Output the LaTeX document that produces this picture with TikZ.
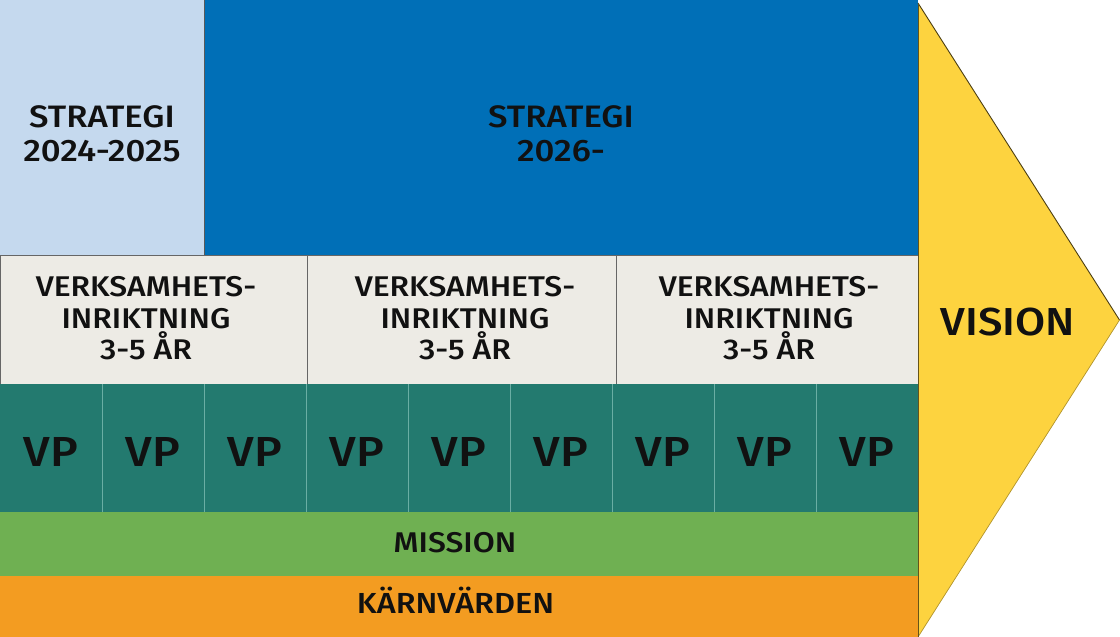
\documentclass[tikz,border=0pt]{standalone}
\usepackage{fontspec}
\setmainfont{Fira Sans}[BoldFont={Fira Sans Medium}, BoldFeatures={FakeStretch=1.12}]
\definecolor{lblue}{HTML}{C5D9EE}
\definecolor{dblue}{HTML}{006FB7}
\definecolor{beige}{HTML}{EDEBE5}
\definecolor{teal}{HTML}{237A6F}
\definecolor{tealline}{HTML}{6AAEA4}
\definecolor{mgreen}{HTML}{6FB052}
\definecolor{korange}{HTML}{F39C21}
\definecolor{vyellow}{HTML}{FDD33F}
\definecolor{txt}{HTML}{111111}
\tikzset{
  cell/.style={anchor=north west, inner sep=0pt, outer sep=0pt, text=txt, font=\bfseries, align=center},
  lbl/.style={text=txt, font=\bfseries, align=center, inner sep=0pt},
}
\begin{document}
\begin{tikzpicture}[x=1pt,y=-1pt]
\useasboundingbox (0,0) rectangle (1120,637);
% top row
\node[cell, fill=lblue, minimum width=204pt, minimum height=255pt] (s1) at (0,0) {};
\node[cell, fill=dblue, minimum width=714pt, minimum height=255pt] (s2) at (204,0) {};
\node[lbl, font=\fontsize{31}{34}\selectfont\bfseries] (s1t) at ([yshift=-6pt]s1.center) {STRATEGI\\2024-2025};
\node[lbl, font=\fontsize{31}{34}\selectfont\bfseries] (s2t) at ([yshift=-6pt]s2.center) {STRATEGI\\2026-};
\draw[gray!70!black, line width=0.8pt] (s1.north east) -- (s1.south east);
% verksamhets row
\foreach \i/\x/\w/\c in {1/0/307/146,2/307/309/465,3/616/302/769}{
  \node[cell, fill=beige, draw=gray!80!black, line width=0.9pt, minimum width=\w pt, minimum height=129pt] (v\i) at (\x,255) {};
  \node[lbl, font=\fontsize{28.5}{31.5}\selectfont\bfseries] (v\i t) at (\c,318.5) {VERKSAMHETS-\\INRIKTNING\\3-5 ÅR};
}
% VP row
\foreach \i in {0,...,8}{
  \node[cell, fill=teal, minimum width=102pt, minimum height=128pt] (p\i) at ({\i*102},384) {};
  \node[lbl, font=\fontsize{42}{46}\selectfont\bfseries] (p\i t) at ([yshift=-4pt]p\i.center) {VP};
}
\foreach \i in {1,...,8}{
  \draw[tealline, line width=0.8pt] (p\i.north west) -- (p\i.south west);
}
% mission & core values
\node[cell, fill=mgreen, minimum width=918pt, minimum height=64pt] (m) at (0,512) {};
\node[lbl, anchor=base, font=\fontsize{28.5}{30}\selectfont\bfseries] (mt) at (455,552) {MISSION};
\node[cell, fill=korange, minimum width=918pt, minimum height=61pt] (k) at (0,576) {};
\node[lbl, anchor=base, font=\fontsize{29}{30}\selectfont\bfseries] (kt) at (455.5,613) {KÄRNVÄRDEN};
% vision arrow
\coordinate (at) at (918,3);
\coordinate (ap) at (1119.5,320);
\coordinate (ab) at (918,637);
\fill[vyellow] (at) -- (ap) -- (ab) -- cycle;
\draw[black!70!vyellow, line width=0.9pt] (at) -- (ap);
\draw[vyellow!70!black, line width=0.7pt] (ap) -- (ab);
\draw[black!60!vyellow, line width=0.9pt] (at) -- (ab);
\node[lbl, font=\fontsize{39}{42}\selectfont\bfseries] (vis) at (1008,322) {VISION};
\end{tikzpicture}
\end{document}
